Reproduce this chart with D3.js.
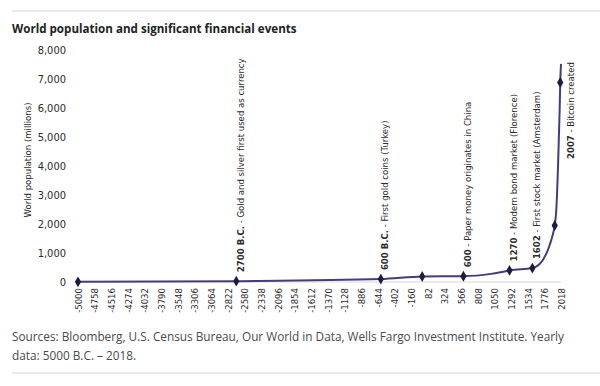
<!DOCTYPE html>
<html>
<head>
<meta charset="utf-8">
<script src="https://cdn.jsdelivr.net/npm/d3@7"></script>
<style>
  html, body { margin: 0; padding: 0; background: #fff; }
  svg { display: block; }
  .narrow { font-family: "Liberation Sans Narrow", "DejaVu Sans Condensed", "Roboto", sans-serif; }
</style>
</head>
<body>
<div id="chart"></div>
<script>
const W = 600
const H = 386

// population estimates (millions)
const years = [-5000, -2700, -600, 1, 600, 1000, 1200, 1270, 1602, 1650, 1700, 1800, 1850, 1900, 1927, 1950, 1960, 1975, 1987, 1999, 2007, 2018]
const population = [5, 30, 100, 190, 200, 280, 360, 400, 480, 520, 600, 950, 1250, 1650, 1950, 2500, 3000, 4000, 5000, 6000, 6880, 7520]

// years that carry a diamond marker
const markerYears = [-5000, -2700, -600, 1, 600, 1270, 1602, 1927, 2007]

// annotated events
const eventYears = [-2700, -600, 600, 1270, 1602]
const eventLead = ['2700 B.C.', '600 B.C.', '600', '1270', '1602']
const eventText = [
  ' - Gold and silver first used as currency',
  ' - First gold coins (Turkey)',
  ' - Paper money originates in China',
  ' - Modern bond market (Florence)',
  ' - First stock market (Amsterdam)',
]
const bitcoinYear = 2007
const bitcoinLead = '2007'
const bitcoinText = ' - Bitcoin created'

const xTicks = d3.range(-5000, 2019, 242)
const yTicks = [0, 1000, 2000, 3000, 4000, 5000, 6000, 7000, 8000]

const LINE = '#423e7e'
const MARK = '#1c1b40'
const TEXT = '#2b2b2b'

const data = years.map((y, i) => ({ year: y, pop: population[i] }))
const popAt = (y) => population[years.indexOf(y)]

const svg = d3.select('#chart').append('svg')
  .attr('width', W)
  .attr('height', H)
  .attr('viewBox', `0 0 ${W} ${H}`)

const x = d3.scaleLinear().domain([-5000, 2018]).range([78, 561])
const y = d3.scaleLinear().domain([0, 8000]).range([282, 50])

// rules top and bottom
svg.append('line').attr('x1', 12).attr('x2', 600).attr('y1', 11).attr('y2', 11)
  .attr('stroke', '#e2e2e2').attr('stroke-width', 1.5)
svg.append('line').attr('x1', 12).attr('x2', 600).attr('y1', 373).attr('y2', 373)
  .attr('stroke', '#e2e2e2').attr('stroke-width', 1.5)

svg.append('text')
  .attr('x', 12).attr('y', 33)
  .attr('font-family', '"Open Sans", sans-serif')
  .attr('font-weight', 700)
  .attr('font-size', 11.6)
  .attr('fill', '#222')
  .text('World population and significant financial events')

// y axis labels only
svg.append('g')
  .attr('transform', 'translate(66,0)')
  .call(d3.axisLeft(y).tickValues(yTicks).tickSize(0).tickPadding(0).tickFormat(d3.format(',')))
  .call((g) => g.select('.domain').remove())
  .call((g) => g.selectAll('text')
    .attr('class', 'narrow')
    .attr('font-size', 11)
    .attr('fill', TEXT))

svg.append('text')
  .attr('class', 'narrow')
  .attr('transform', 'translate(28,160) rotate(-90)')
  .attr('text-anchor', 'middle')
  .attr('dy', '0.35em')
  .attr('font-size', 9.5)
  .attr('fill', TEXT)
  .text('World population (millions)')

// baseline
svg.append('line')
  .attr('x1', x(-5000)).attr('x2', x(2018))
  .attr('y1', y(0)).attr('y2', y(0))
  .attr('stroke', '#e4e4e4').attr('stroke-width', 1.5)

// x tick labels, rotated
svg.append('g')
  .attr('transform', `translate(0,${y(0)})`)
  .call(d3.axisBottom(x).tickValues(xTicks).tickSize(0).tickFormat((d) => String(d)))
  .call((g) => g.select('.domain').remove())
  .call((g) => g.selectAll('text')
    .attr('class', 'narrow')
    .attr('font-size', 9.5)
    .attr('fill', TEXT)
    .attr('text-anchor', 'end')
    .attr('transform', 'translate(0,6) rotate(-90)')
    .attr('x', 0)
    .attr('y', 0)
    .attr('dy', '0.35em'))

const line = d3.line()
  .x((d) => x(d.year))
  .y((d) => y(d.pop))
  .curve(d3.curveMonotoneX)

svg.append('path')
  .datum(data)
  .attr('d', line)
  .attr('fill', 'none')
  .attr('stroke', LINE)
  .attr('stroke-width', 2)

svg.append('g')
  .selectAll('path')
  .data(markerYears)
  .join('path')
  .attr('d', d3.symbol(d3.symbolDiamond, 34))
  .attr('transform', (d) => `translate(${x(d)},${y(popAt(d))})`)
  .attr('fill', MARK)

// event labels
const labels = svg.append('g').attr('class', 'narrow').attr('font-size', 9.5).attr('fill', TEXT)
eventYears.forEach((yr, i) => {
  const t = labels.append('text')
    .attr('transform', `translate(${x(yr) + 4},${y(popAt(yr)) - 9}) rotate(-90)`)
    .attr('dy', '0.35em')
  t.append('tspan').attr('font-weight', 700).text(eventLead[i])
  t.append('tspan').text(eventText[i])
})

const bt = labels.append('text')
  .attr('transform', `translate(${x(bitcoinYear) + 10},159) rotate(-90)`)
  .attr('dy', '0.35em')
bt.append('tspan').attr('font-weight', 700).text(bitcoinLead)
bt.append('tspan').text(bitcoinText)

// footnote
const foot = svg.append('g')
  .attr('font-family', '"Open Sans", sans-serif')
  .attr('font-size', 11.8)
  .attr('fill', '#4a4a4a')
foot.append('text').attr('x', 12).attr('y', 341)
  .text('Sources: Bloomberg, U.S. Census Bureau, Our World in Data, Wells Fargo Investment Institute. Yearly')
foot.append('text').attr('x', 12).attr('y', 360)
  .text('data: 5000 B.C. – 2018.')
</script>
</body>
</html>
